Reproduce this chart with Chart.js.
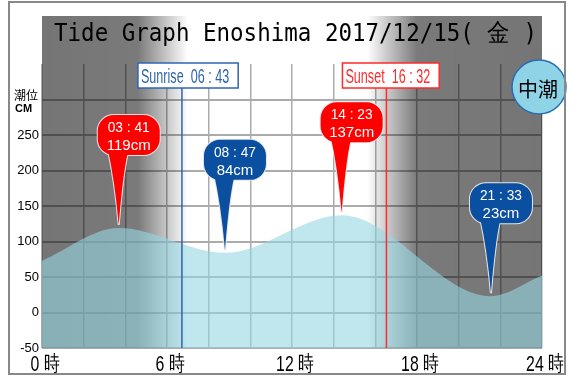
<!DOCTYPE html>
<html>
<head>
<meta charset="utf-8">
<script src="https://cdn.jsdelivr.net/npm/chart.js@4.4.1/dist/chart.umd.min.js"></script>
<style>
html,body{margin:0;padding:0;background:#fff;overflow:hidden}
</style>
</head>
<body>
<canvas id="tide" width="573" height="376"></canvas>
<script>
// tide curve (hour, cm): endpoints + high/low tides
const tideHours = [0, 3.683, 8.783, 14.383, 21.55, 24];
const tideLevels = [73, 119, 84, 137, 23, 52];

// high / low tide markers
const peakHours = [3.683, 8.783, 14.383, 21.55];
const peakLevels = [119, 84, 137, 23];
const peakTimes = ['03 : 41', '08 : 47', '14 : 23', '21 : 33'];
const peakKinds = ['high', 'low', 'high', 'low'];

// sunrise / sunset
const sunHours = [6.717, 16.533];
const sunLabels = ['Sunrise  06 : 43', 'Sunset  16 : 32'];

const xTickHours = [0, 6, 12, 18, 24];
const xTickLabels = ['0 時', '6 時', '12 時', '18 時', '24 時'];
const yTickLabels = ['-50', '0', '50', '100', '150', '200', '250'];
const titleText = 'Tide Graph Enoshima 2017/12/15( 金 )';
const tideName = '中潮';

const RED = '#ff0000', BLUE = '#0b4fa0';

function balloon(ctx, px, py, color, t1, t2){
  const cx = px + 10, cy = py - 93, w = 62, h = 40;
  const blob = new Path2D();
  blob.roundRect(cx - w/2, cy - h/2, w, h, 16);
  const spike = new Path2D();
  spike.moveTo(cx - 21, cy + h/2 - 6);
  spike.quadraticCurveTo(cx - 14, cy + 45, px, py - 3);
  spike.quadraticCurveTo(cx - 6, cy + 40, cx - 1, cy + h/2 - 2);
  spike.closePath();
  ctx.strokeStyle = '#e6e6e6';
  ctx.lineWidth = 2;
  ctx.stroke(blob); ctx.stroke(spike);
  ctx.fillStyle = color;
  ctx.fill(blob); ctx.fill(spike);
  ctx.fillStyle = '#fff';
  ctx.font = '15px "Liberation Sans", Arial, sans-serif';
  ctx.textAlign = 'center';
  ctx.textBaseline = 'alphabetic';
  ctx.fillText(t1, cx, cy - 3, 42);
  ctx.fillText(t2, cx, cy + 15);
}

const tidePlugin = {
  id: 'tideDecor',
  beforeDatasetsDraw(chart){
    // night shading over grid and title band
    const {ctx, chartArea: a, scales: {x}} = chart;
    const g = ctx.createLinearGradient(a.left, 0, a.right, 0);
    const stop = (hr, al) => g.addColorStop((x.getPixelForValue(hr) - a.left) / (a.right - a.left), 'rgba(0,0,0,' + al + ')');
    stop(0, .54); stop(4.6, .52); stop(7.0, 0); stop(15.6, 0); stop(18.0, .52); stop(24, .54);
    ctx.save();
    ctx.fillStyle = g;
    ctx.fillRect(a.left, 16, a.right - a.left, a.bottom - 16);
    ctx.restore();
  },
  afterDatasetsDraw(chart){
    const {ctx, chartArea: a, scales: {x, y}} = chart;
    ctx.save();
    // sunrise / sunset lines and boxes
    sunHours.forEach((hr, i) => {
      const col = i === 0 ? '#2f64b0' : '#ff2a2a';
      const lx = x.getPixelForValue(hr);
      ctx.strokeStyle = col;
      ctx.lineWidth = 1.5;
      ctx.beginPath(); ctx.moveTo(lx, 88); ctx.lineTo(lx, a.bottom); ctx.stroke();
      ctx.font = '20px "Liberation Sans", Arial, sans-serif';
      const tw = ctx.measureText(sunLabels[i]).width * 0.63;
      const bx = lx - 44;
      ctx.fillStyle = '#fff';
      ctx.fillRect(bx, 63, tw + 12, 25);
      ctx.strokeRect(bx, 63, tw + 12, 25);
      ctx.fillStyle = col;
      ctx.textAlign = 'left';
      ctx.textBaseline = 'alphabetic';
      ctx.fillText(sunLabels[i], bx + 3, 83, tw);
    });
    // high/low balloons
    peakHours.forEach((hr, i) => {
      balloon(ctx, x.getPixelForValue(hr), y.getPixelForValue(peakLevels[i]),
        peakKinds[i] === 'high' ? RED : BLUE, peakTimes[i], peakLevels[i] + 'cm');
    });
    ctx.restore();
  },
  afterDraw(chart){
    const {ctx, chartArea: a, scales: {x}} = chart;
    ctx.save();
    // hour labels, condensed like the original
    ctx.fillStyle = '#000';
    ctx.font = '22px "Liberation Sans", Arial, sans-serif';
    ctx.textAlign = 'center';
    ctx.textBaseline = 'alphabetic';
    xTickHours.forEach((hr, i) => {
      const w = ctx.measureText(xTickLabels[i]).width * 0.72;
      ctx.fillText(xTickLabels[i], x.getPixelForValue(hr) + 3, a.bottom + 23, w);
    });
    // title
    ctx.font = '25px "DejaVu Sans Mono", monospace';
    ctx.textAlign = 'left';
    ctx.fillText(titleText, 54, 41, 483);
    // axis caption
    ctx.font = '12px "Noto Sans CJK JP", sans-serif';
    ctx.fillText('潮位', 14, 100);
    ctx.font = 'bold 11px "Liberation Sans", Arial, sans-serif';
    ctx.fillText('CM', 15, 112);
    // tide-type badge
    ctx.beginPath();
    ctx.arc(539, 87, 27, 0, Math.PI * 2);
    ctx.fillStyle = '#8ed3e6';
    ctx.fill();
    ctx.strokeStyle = '#2b6cb0';
    ctx.lineWidth = 1.5;
    ctx.stroke();
    ctx.fillStyle = '#000';
    ctx.font = '20px "Noto Sans CJK JP", sans-serif';
    ctx.textAlign = 'center';
    ctx.textBaseline = 'middle';
    ctx.fillText(tideName, 538, 89);
    // frame
    ctx.strokeStyle = '#888';
    ctx.lineWidth = 2;
    ctx.strokeRect(9, 2, 556, 372);
    ctx.restore();
  }
};

new Chart(document.getElementById('tide'), {
  type: 'line',
  data: {
    datasets: [{
      data: tideHours.map((h, i) => ({x: h, y: tideLevels[i]})),
      fill: 'start',
      backgroundColor: 'rgba(150,213,227,0.6)',
      borderWidth: 0,
      pointRadius: 0,
      cubicInterpolationMode: 'monotone'
    }]
  },
  options: {
    responsive: false,
    animation: false,
    layout: {padding: {left: 0, right: 31, top: 64, bottom: 0}},
    plugins: {legend: {display: false}, tooltip: {enabled: false}},
    scales: {
      x: {
        type: 'linear', min: 0, max: 24,
        afterFit(s){ s.height = 28; },
        border: {display: false},
        grid: {color: '#ababab', lineWidth: 1.5, drawTicks: false},
        ticks: {stepSize: 2, autoSkip: false, maxRotation: 0, display: false}
      },
      y: {
        min: -50, max: 350,
        afterFit(s){ s.width = 42; },
        border: {display: false},
        grid: {color: c => c.tick.value === 350 ? 'rgba(0,0,0,0)' : '#ababab', lineWidth: 2, drawTicks: false},
        ticks: {
          stepSize: 50, padding: 3, color: '#000',
          font: {family: '"Liberation Sans", Arial, sans-serif', size: 13},
          callback: v => v <= 250 ? yTickLabels[(v + 50) / 50] : ''
        }
      }
    }
  },
  plugins: [tidePlugin]
});
</script>
</body>
</html>
